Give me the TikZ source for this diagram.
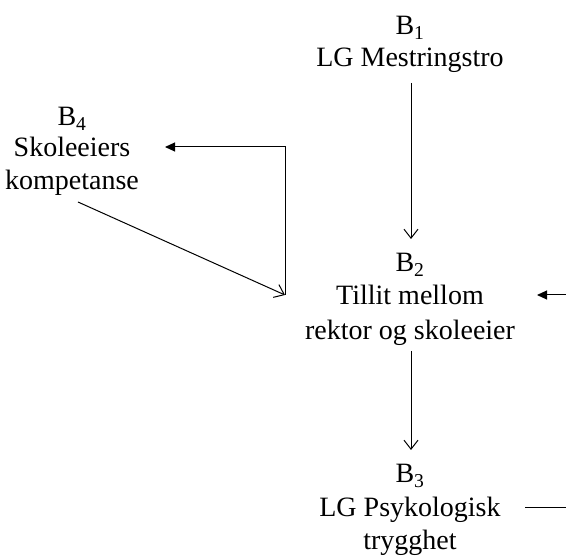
\documentclass[tikz,border=0pt]{standalone}
\usepackage{fontspec}
\setmainfont{Liberation Serif}
\usetikzlibrary{arrows.meta,calc}
\begin{document}
\begin{tikzpicture}[x=1pt,y=-1pt,
  txt/.style={anchor=base,inner sep=0pt,outer sep=0pt,font=\fontsize{28}{34}\selectfont},
  conn/.style={line width=1pt,draw=black},
  openhead/.style={conn,-{Straight Barb[length=9pt,width=14pt,line width=1pt]}},
  fillhead/.style={conn,-{Triangle[length=10pt,width=9pt]}}]
\useasboundingbox (0,0) rectangle (566,556);
% B1
\node[txt] (b1)  at (410,35)  {B\textsubscript{1}};
\node[txt] (b1t) at (410,67)  {LG Mestringstro};
% B2
\node[txt] (b2)  at (410,272) {B\textsubscript{2}};
\node[txt] (b2a) at (410,305) {Tillit mellom};
\node[txt] (b2b) at (410,340) {rektor og skoleeier};
% B3
\node[txt] (b3)  at (410,483) {B\textsubscript{3}};
\node[txt] (b3a) at (410,517) {LG Psykologisk};
\node[txt] (b3b) at (410,550) {trygghet};
% B4
\node[txt] (b4)  at (72,126)  {B\textsubscript{4}};
\node[txt] (b4a) at (72,157)  {Skoleeiers};
\node[txt] (b4b) at (72,190)  {kompetanse};
% connectors
\coordinate (j) at (285,295);
\coordinate (r1) at (566,295);
\coordinate (r2) at (566,508);
\draw[openhead] ($(b1t.base)+(1,16)$) -- ($(b2.base)+(1,-33)$);
\draw[openhead] ($(b2b.base)+(1,11)$) -- ($(b3.base)+(1,-33)$);
\draw[openhead] ($(b4b.base)+(6,12)$) -- (j);
\draw[fillhead] (j) |- ($(b4a.base)+(93,-10)$);
\draw[fillhead] (r1) -- ($(b2a.base)+(127,-10)$);
\draw[conn] (r2) -- ($(b3a.base)+(115,-9)$);
\end{tikzpicture}
\end{document}
